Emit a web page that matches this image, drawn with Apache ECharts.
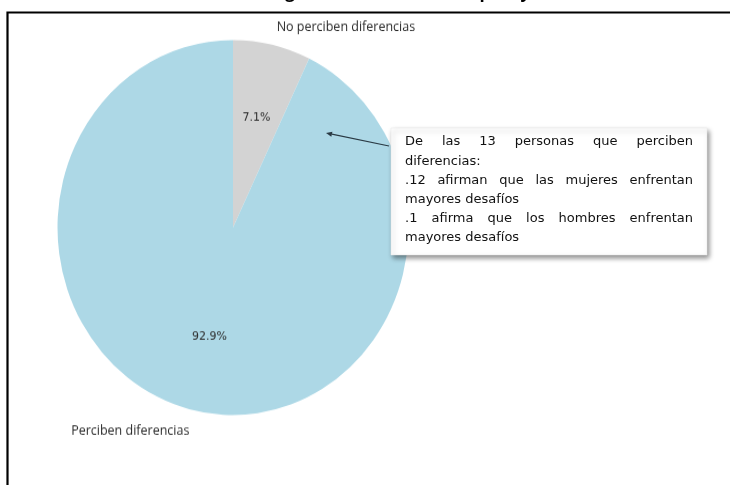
<!DOCTYPE html>
<html>
<head>
<meta charset="utf-8">
<script src="https://cdn.jsdelivr.net/npm/echarts@6/dist/echarts.min.js"></script>
<style>
  html, body { margin: 0; padding: 0; background: #fff; overflow: hidden; }
  #wrap { position: relative; width: 730px; height: 485px; overflow: hidden; }
  #pie { position: absolute; left: 0; top: 0; width: 730px; height: 485px; transform-origin: 0 0; }
  #notes { position: absolute; left: 0; top: 0; width: 730px; height: 485px; }
</style>
</head>
<body>
<div id="wrap">
  <div id="pie"></div>
  <div id="notes"></div>
</div>
<script>
// Respuestas: ¿perciben diferencias entre hombres y mujeres?
const categories = ['No perciben diferencias', 'Perciben diferencias'];
const counts = [1, 13];
const sliceColors = ['#d3d3d3', '#add8e6'];

// Desglose de quienes perciben diferencias
const noteLines = [
  { text: 'De las 13 personas que perciben', justify: true },
  { text: 'diferencias:', justify: false },
  { text: '.12 afirman que las mujeres enfrentan', justify: true },
  { text: 'mayores desafíos', justify: false },
  { text: '.1 afirma que los hombres enfrentan', justify: true },
  { text: 'mayores desafíos', justify: false }
];

const titleText = 'Diferencias de género en cuanto a empleo y salarios';

// ---- pie (drawn as an ellipse: horizontal radius RX, vertical RY) ----
const RX = 175.5, RY = 187.5;
const SY = RY / RX;
const CX = 233, CY_SCREEN = 227.5;
const CY = CY_SCREEN / SY;
document.getElementById('pie').style.transform = 'scaleY(' + SY + ')';

const total = counts.reduce((a, b) => a + b, 0);
const midSides = [];
let acc = 0;
counts.forEach(v => {
  const mid = (acc + v / 2) / total * 2 * Math.PI; // clockwise from 12 o'clock
  midSides.push(Math.sin(mid) >= 0 ? 'left' : 'right');
  acc += v;
});

const pieData = categories.map((c, i) => ({ name: c, value: counts[i], itemStyle: { color: sliceColors[i] } }));
const ghostData = categories.map((c, i) => ({ name: c, value: counts[i], itemStyle: { color: 'rgba(0,0,0,0)' } }));

const pieChart = echarts.init(document.getElementById('pie'), null, { renderer: 'canvas' });
pieChart.setOption({
  animation: false,
  series: [
    {
      type: 'pie', center: [CX, CY], radius: RX, startAngle: 90, clockwise: true,
      silent: true, data: pieData, label: { show: false }, labelLine: { show: false },
      itemStyle: { borderWidth: 0 }
    },
    {
      // percentages inside the slices
      type: 'pie', center: [CX, CY], radius: RX * 1.165, startAngle: 90, clockwise: true,
      silent: true, data: ghostData, labelLine: { show: false },
      label: {
        show: true, position: 'inside',
        formatter: p => (p.value / total * 100).toFixed(1) + '%',
        fontFamily: 'DejaVu Sans', fontSize: 11, color: '#2b2b2b'
      }
    },
    {
      // category names just outside the rim
      type: 'pie', center: [CX, CY], radius: RX * 2.2, startAngle: 90, clockwise: true,
      silent: true, data: ghostData, labelLine: { show: false },
      label: {
        show: true, position: 'inside', formatter: '{b}',
        fontFamily: 'Open Sans', fontSize: 12.5, color: '#2b2b2b'
      },
      labelLayout: p => ({ align: midSides[p.dataIndex], dy: midSides[p.dataIndex] === 'left' ? 3.5 : -1 })
    }
  ]
});

// ---- frame, note box, arrow ----
const measureCtx = document.createElement('canvas').getContext('2d');
function textWidth(str, font) { measureCtx.font = font; return measureCtx.measureText(str).width; }

const graphics = [];

// outer frame
graphics.push({
  type: 'rect', shape: { x: 7.5, y: 12.5, width: 800, height: 600 },
  style: { fill: null, stroke: '#000', lineWidth: 2.2 }, silent: true
});

// title (clipped at the top edge)
const titleFont = 'bold 17px "Open Sans"';
const gIdx = titleText.indexOf('g');
const titleX = 290 - textWidth(titleText.slice(0, gIdx), titleFont) - textWidth('g', titleFont) / 2;
graphics.push({
  type: 'text', x: titleX, y: -15,
  style: { text: titleText, font: titleFont, fill: '#000', verticalAlign: 'top' },
  silent: true
});

// note box
const box = { x: 391, y: 128, w: 316, h: 127 };
graphics.push({
  type: 'rect', shape: { x: box.x, y: box.y, width: box.w, height: box.h },
  style: {
    fill: '#fff', stroke: '#e4e4e4', lineWidth: 0.5,
    shadowBlur: 5, shadowOffsetX: 2, shadowOffsetY: 3, shadowColor: 'rgba(0,0,0,0.45)'
  },
  silent: true, z: 5
});

// justified note text
const noteFont = '13px "DejaVu Sans"';
const textLeft = 405, textRight = 693, firstLineY = 142, lineStep = 19.2;
noteLines.forEach((ln, li) => {
  const y = firstLineY + li * lineStep;
  const words = ln.text.split(' ');
  const widths = words.map(w => textWidth(w, noteFont));
  const sum = widths.reduce((a, b) => a + b, 0);
  const space = textWidth(' ', noteFont);
  const gap = (ln.justify && words.length > 1) ? (textRight - textLeft - sum) / (words.length - 1) : space;
  let x = textLeft;
  words.forEach((w, wi) => {
    graphics.push({
      type: 'text', x: x, y: y, z: 6, silent: true,
      style: { text: w, font: noteFont, fill: '#111', verticalAlign: 'middle' }
    });
    x += widths[wi] + gap;
  });
});

// arrow from the note to the grey slice
const a0 = [389, 146], a1 = [326, 133];
const ang = Math.atan2(a1[1] - a0[1], a1[0] - a0[0]);
const headLen = 6, headHalf = 2.6;
const base = [a1[0] - headLen * Math.cos(ang), a1[1] - headLen * Math.sin(ang)];
graphics.push({
  type: 'line', shape: { x1: a0[0], y1: a0[1], x2: base[0], y2: base[1] },
  style: { stroke: '#2a3a44', lineWidth: 1.2 }, silent: true, z: 7
});
graphics.push({
  type: 'polygon', silent: true, z: 7,
  shape: {
    points: [
      a1,
      [base[0] + headHalf * Math.sin(ang), base[1] - headHalf * Math.cos(ang)],
      [base[0] - headHalf * Math.sin(ang), base[1] + headHalf * Math.cos(ang)]
    ]
  },
  style: { fill: '#2a3a44' }
});

const notesChart = echarts.init(document.getElementById('notes'), null, { renderer: 'canvas' });
notesChart.setOption({ animation: false, graphic: { elements: graphics } });
</script>
</body>
</html>
